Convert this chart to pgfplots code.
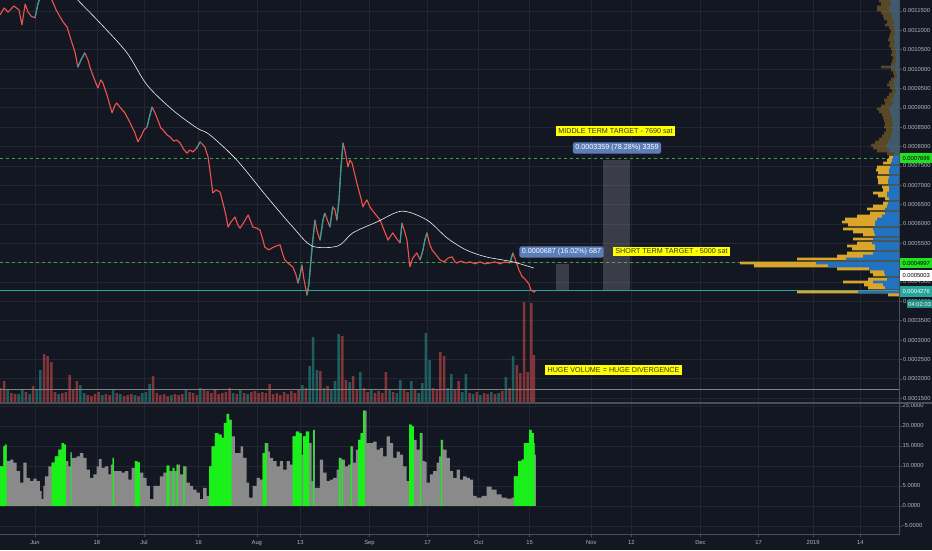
\documentclass[border=0pt]{standalone}
\usepackage{fontspec}
\setmainfont{Liberation Sans}
\usepackage{pgfplots}
\usepackage{pgfplotstable}
\pgfplotsset{compat=1.18}
\pgfplotsset{/pgf/number format/assume math mode=true}

\definecolor{bg}{HTML}{131722}
\definecolor{gridc}{HTML}{222633}
\definecolor{axisc}{HTML}{4A4E59}
\definecolor{tickc}{HTML}{B2B5BE}
\definecolor{cred}{HTML}{EF5350}
\definecolor{cteal}{HTML}{26A69A}
\definecolor{vpgold}{HTML}{D9A52B}
\definecolor{vpblue}{HTML}{2272C2}
\definecolor{histgray}{HTML}{8A8A8A}
\definecolor{histgreen}{HTML}{1AF01A}
\definecolor{lvlgreen}{HTML}{43A047}
\definecolor{lblgreen}{HTML}{22E022}
\definecolor{boxblue}{HTML}{5B7DB8}
\definecolor{ylw}{HTML}{FFFF00}
\definecolor{rectgray}{HTML}{9598A1}

% price in units of 1e-7 BTC ("sat" as the chart notes call them), x in days from 1 Jun 2018
\pgfplotstableread{
d p
-9.6 11400
-8.5 11580
-7.4 11470
-5.8 11630
-4.4 11530
-3.6 11140
-2.7 11680
-1.9 11470
-1.1 11370
0 11320
0.8 11680
1.9 11990
3.3 11910
4.7 11780
5.8 11530
6.9 11350
7.7 11220
8.8 11090
9.6 10850
10.2 10670
11.0 10440
11.8 10050
12.6 10230
13.7 10420
14.6 10230
15.1 10050
16.2 9770
17.3 9510
18.1 9720
18.7 9640
19.8 9330
21.2 8870
22.0 9070
22.5 9120
23.6 8990
24.7 8870
25.8 8680
26.7 8500
27.5 8350
28.3 8120
29.1 8250
30.0 8430
30.8 8500
31.6 8810
32.2 9020
33.0 8870
33.8 8680
34.6 8480
35.2 8430
36.3 8300
37.1 8250
38.2 8140
39.0 8170
39.9 8090
41.0 7910
41.8 7830
42.6 7910
43.4 7860
44.5 7960
45.4 8120
46.2 8040
46.7 7990
47.6 7730
48.1 7390
48.9 6800
49.8 6880
50.9 6820
51.7 6540
52.5 6230
53.1 5920
53.9 6050
55.0 6180
55.8 5970
56.4 5890
57.5 6050
58.6 6230
59.4 6050
59.9 5920
61.0 5890
61.9 5840
62.7 5580
63.2 5400
64.3 5330
65.2 5380
66.3 5430
67.4 5460
68.2 5200
68.7 5070
69.8 4970
70.9 4890
71.8 4680
72.3 4470
72.9 4680
73.4 4940
74.0 4550
74.8 4160
75.3 4420
75.9 5070
76.4 5580
77.0 6100
77.5 5840
78.4 5580
79.2 6100
79.7 6280
80.6 6050
81.1 5920
81.9 6440
82.5 6360
83.0 6100
83.6 6620
84.1 7390
84.7 8090
85.2 7910
86.1 7470
86.6 7650
87.2 7570
88.0 7260
88.5 7060
89.4 6750
90.2 6440
90.7 6540
91.3 6620
92.1 6440
92.7 6360
93.8 6230
94.9 6100
96.0 5840
97.1 5580
97.6 5660
98.4 5770
99.3 5640
100.4 5510
100.9 6020
101.7 5790
102.3 5580
103.1 4890
103.9 5120
105.0 5250
105.9 5070
106.7 5330
107.2 5580
107.8 5770
108.6 5460
109.2 5330
110.3 5200
111.4 5070
112.5 5020
113.6 5120
114.7 5150
115.5 5020
116.0 4990
117.1 5040
118.5 4990
119.6 5020
121.0 4970
122.4 5020
123.7 4970
125.1 4990
126.5 5020
127.9 4970
129.2 5020
130.6 4990
131.4 5250
132.3 5020
133.1 4810
133.9 4650
135.0 4550
135.8 4450
136.4 4290
137.2 4240
137.7 4276
}\price

\pgfplotstableread{
d p
0 11320
0.8 11680
1.9 11990
nan nan
11.8 10050
12.6 10230
13.7 10420
nan nan
30.8 8500
31.6 8810
32.2 9020
nan nan
44.5 7960
45.4 8120
nan nan
72.3 4470
72.9 4680
73.4 4940
nan nan
74.8 4160
75.3 4420
75.9 5070
76.4 5580
77.0 6100
nan nan
78.4 5580
79.2 6100
79.7 6280
nan nan
81.1 5920
81.9 6440
nan nan
83.0 6100
83.6 6620
84.1 7390
84.7 8090
nan nan
100.4 5510
100.9 6020
nan nan
105.9 5070
106.7 5330
107.2 5580
107.8 5770
nan nan
130.6 4990
131.4 5250
}\priceup

\pgfplotstableread{
d p
6.9 12280
11.8 11780
17.9 11190
25.3 10420
30.8 9590
37.9 8940
44.5 8480
48.1 8300
55.5 7650
63.8 6700
70.9 5920
76.2 5430
83.3 5430
87.4 5770
94.0 6050
100.9 6330
107.8 6100
113.3 5640
118.5 5330
124.0 5150
131.4 5020
137.2 4860
}\ma

\pgfplotstableread{
d v
-9.5 14
-8.5 21
-6.5 9
-5.5 8
-2.5 10
-0.5 16
2.5 48
3.5 46
4.5 40
5.5 10
7.5 9
8.5 10
9.5 27
10.5 12
11.5 21
14.5 7
15.5 6
16.5 8
17.5 10
19.5 8
20.5 7
22.5 9
24.5 6
25.5 7
26.5 8
28.5 6
32.5 26
33.5 9
34.5 7
35.5 8
36.5 6
38.5 8
39.5 7
40.5 8
42.5 10
43.5 9
44.5 7
46.5 12
47.5 11
48.5 9
49.5 12
50.5 8
51.5 9
52.5 10
53.5 14
55.5 8
57.5 9
59.5 10
60.5 11
61.5 9
62.5 10
63.5 9
64.5 18
65.5 8
66.5 9
67.5 7
68.5 10
69.5 8
70.5 11
71.5 9
72.5 12
74.5 14
78.5 31
80.5 16
84.5 66
85.5 22
87.5 26
88.5 12
90.5 14
91.5 10
93.5 9
94.5 11
95.5 9
96.5 30
98.5 10
101.5 12
102.5 10
104.5 12
109.5 14
110.5 12
111.5 50
112.5 46
115.5 12
116.5 21
119.5 9
121.5 10
123.5 9
124.5 8
126.5 8
128.5 11
130.5 14
132.5 37
133.5 29
134.5 100
135.5 30
136.5 99
137.2 47
}\volred

\pgfplotstableread{
d v
-7.5 12
-4.5 8
-3.5 13
-1.5 8
0.5 12
1.5 32
6.5 8
12.5 17
13.5 9
18.5 7
21.5 12
23.5 8
27.5 7
29.5 9
30.5 10
31.5 18
37.5 7
41.5 12
45.5 14
54.5 9
56.5 13
58.5 8
73.5 17
75.5 36
76.5 65
77.5 32
79.5 14
81.5 13
82.5 21
83.5 68
86.5 20
89.5 30
92.5 12
97.5 12
99.5 9
100.5 22
103.5 21
105.5 9
106.5 19
107.5 69
108.5 42
113.5 14
114.5 28
117.5 10
118.5 28
120.5 8
122.5 7
125.5 10
127.5 9
129.5 25
131.5 46
}\volteal

\pgfplotstableread{
p l b
11758 20 9
11681 18 8
11603 22 10
11526 22 10
11448 18 8
11371 16 7
11293 15 7
11216 12 5
11138 14 6
11061 10 5
10983 8 4
10906 9 4
10828 10 5
10751 11 5
10673 9 4
10596 10 5
10518 8 4
10441 7 3
10363 8 4
10286 6 3
10208 7 3
10131 8 4
10053 18 8
9976 8 4
9898 6 3
9821 5 2
9743 8 4
9666 10 5
9588 12 5
9511 9 4
9434 7 3
9356 10 5
9279 12 5
9201 15 7
9124 14 6
9046 18 8
8969 22 10
8891 20 9
8814 17 8
8736 16 7
8659 15 7
8581 14 6
8504 15 7
8426 13 6
8349 15 7
8271 17 8
8194 20 9
8116 24 11
8039 28 13
7961 26 12
7884 22 10
7806 12 5
}\vpdim

\pgfplotstableread{
p l b
7729 10 6
7651 12 7
7574 16 8
7470 22 9
7393 23 10
7315 21 10
7212 22 10
7135 21 11
7057 21 11
6954 17 10
6876 16 10
6799 26 12
6721 21 12
6644 14 10
6541 16 11
6463 26 12
6386 32 14
6282 29 14
6205 42 17
6127 54 22
6050 57 24
5972 51 24
5869 56 26
5791 46 25
5714 36 24
5611 46 26
5507 42 27
5430 52 24
5352 47 24
5249 52 26
5172 62 36
5094 102 53
4991 159 83
4913 145 71
4836 62 30
4758 29 15
4681 26 14
4577 31 12
4500 56 26
4422 35 16
4345 31 14
4242 102 41
4164 11 0
}\vpbright

\pgfplotstableread{
d v
-9.62 9.9
-8.72 14.9
-8.25 15.3
-7.78 11.2
-6.87 11.6
-5.97 10.8
-5.03 8.7
-4.12 5.8
-3.22 10.8
-2.28 7.0
-1.37 6.2
-0.47 6.8
0.47 6.2
1.37 3.7
1.84 1.7
2.28 5.0
2.75 7.4
3.66 9.9
4.59 10.8
5.50 12.4
6.41 14.1
7.34 15.7
7.97 15.3
8.52 11.2
9.16 9.9
9.82 13.4
10.09 12.0
11.47 12.4
12.37 13.2
13.28 12.0
14.22 9.1
15.12 7.0
16.03 7.9
16.97 9.9
17.60 11.7
18.34 9.5
19.25 9.9
20.15 7.9
20.90 10.3
21.36 12.0
21.72 8.7
22.90 8.7
23.84 8.3
24.75 8.7
25.65 6.6
26.59 9.5
27.50 11.2
28.13 10.9
28.87 8.3
29.78 7.0
30.71 5.0
31.62 1.7
32.53 5.0
33.46 5.0
34.37 7.4
35.28 8.3
36.21 10.1
36.93 8.7
37.86 9.5
38.30 8.7
38.96 10.3
39.87 7.9
40.78 9.9
41.71 5.8
42.62 5.0
43.52 4.1
44.46 3.3
45.37 1.7
46.27 4.5
47.21 2.5
47.92 9.9
48.58 14.9
49.49 18.2
50.40 17.8
51.33 17.0
51.97 20.7
52.71 23.0
53.42 21.5
54.08 17.4
54.99 13.2
55.90 13.2
56.56 14.9
57.27 12.0
58.21 5.8
58.92 2.1
59.86 5.0
60.96 7.0
61.86 6.6
62.61 13.2
63.24 15.7
64.15 13.6
64.61 12.0
65.52 11.2
66.46 9.9
67.36 11.2
68.27 9.1
69.21 11.2
70.11 10.3
70.86 17.4
71.76 18.6
72.67 18.2
73.33 12.8
73.77 17.4
74.51 18.6
75.42 15.7
76.08 6.2
76.52 19.0
76.99 4.5
78.36 11.6
79.27 8.3
80.20 6.2
81.11 6.6
82.02 7.0
82.95 9.1
83.59 12.0
84.33 11.6
85.23 9.9
86.14 10.3
86.80 14.9
87.52 10.8
88.26 14.1
88.89 16.5
89.55 18.2
90.27 23.8
91.20 15.7
92.11 15.7
93.02 16.1
93.95 14.1
94.86 14.5
95.77 12.4
96.70 17.4
97.61 15.7
98.52 12.0
99.45 13.6
100.36 12.8
101.26 9.9
102.20 6.2
102.91 20.3
103.57 19.9
104.21 16.5
104.95 14.1
105.86 18.2
106.60 11.2
107.23 11.0
107.70 5.8
108.61 7.9
109.51 8.7
110.45 10.8
111.16 12.4
111.63 16.5
112.26 14.1
113.20 12.0
114.10 8.7
115.01 7.0
115.95 9.1
116.85 6.6
117.76 7.4
118.70 7.0
119.60 6.6
120.51 2.5
121.45 2.1
122.82 2.5
124.20 4.8
125.57 4.1
126.95 2.9
128.32 2.1
129.69 1.8
131.07 2.1
131.70 7.4
132.88 11.2
133.82 11.6
134.45 15.7
135.19 15.7
135.91 19.0
136.57 18.2
137.20 15.7
137.39 12.8
137.75 0
}\hist

\pgfplotstableread{
d v
-9.62 9.9
-8.72 14.9
-8.25 15.3
-7.78 0
4.59 10.8
5.50 12.4
6.41 14.1
7.34 15.7
7.97 15.3
8.52 0
9.82 13.4
10.09 0
21.36 12.0
21.72 0
27.50 11.2
28.13 10.9
28.87 0
36.21 10.1
36.93 0
37.86 9.5
38.30 0
38.96 10.3
39.32 0
40.78 9.9
41.16 0
47.92 9.9
48.58 14.9
49.49 18.2
50.40 17.8
51.33 17.0
51.97 20.7
52.71 23.0
53.42 21.5
54.08 0
62.61 13.2
63.24 15.7
63.70 0
70.86 17.4
71.76 18.6
72.67 18.2
73.33 0
73.77 17.4
74.51 18.6
75.42 0
76.52 19.0
76.80 0
83.59 12.0
83.95 0
84.33 11.6
84.69 0
86.80 14.9
87.16 0
88.89 16.5
89.55 18.2
90.27 23.8
90.73 0
102.91 20.3
103.57 19.9
104.21 0
105.86 18.2
106.22 0
111.63 16.5
111.99 0
131.70 7.4
132.88 11.2
133.82 11.6
134.45 15.7
135.19 15.7
135.91 19.0
136.57 18.2
137.20 15.7
137.39 0
}\histg

\pgfplotsset{
  tvbase/.style={
    scale only axis, width=899pt,
    xmin=-9.62, xmax=237.6,
    axis line style={draw=none},
    tick label style={font=\fontsize{5.8}{6}\selectfont, color=tickc},
    every tick/.style={axisc, line width=0.5pt},
    grid style={gridc, line width=0.6pt},
    xtick={0,17,30,45,61,73,92,108,122,136,153,164,183,199,214,227},
  },
  overlay/.style={scale only axis, width=899pt, at={(0pt,0pt)}, anchor=north west, height=402pt, hide axis},
}

\begin{document}
\begin{tikzpicture}[x=1pt,y=1pt]
\useasboundingbox (0pt,0pt) rectangle (932pt,-550pt);
\fill[bg] (0pt,0pt) rectangle (932pt,-550pt);

% price pane
\begin{axis}[tvbase, at={(0pt,0pt)}, anchor=north west, height=402pt,
  ymin=1400, ymax=11784,
  xmajorgrids, ymajorgrids,
  xticklabels={}, major x tick style={draw=none},
  ytick={1500,2000,...,11500},
  yticklabels={0.0001500,0.0002000,0.0002500,0.0003000,0.0003500,0.0004000,0.0004500,0.0005000,0.0005500,0.0006000,0.0006500,0.0007000,0.0007500,0.0008000,0.0008500,0.0009000,0.0009500,0.0010000,0.0010500,0.0011000,0.0011500},
  ytick pos=right, yticklabel pos=right, tick align=outside, major tick length=3pt,
  yticklabel style={inner sep=1pt},
]
\addplot[lvlgreen, line width=0.6pt, dash pattern=on 3pt off 3pt] coordinates {(-9.62,7699) (237.6,7699)};
\addplot[lvlgreen, line width=0.6pt, dash pattern=on 3pt off 3pt] coordinates {(-9.62,4997) (237.6,4997)};
\addplot[cteal, line width=0.6pt] coordinates {(-9.62,4276) (237.6,4276)};
\fill[rectgray, fill opacity=0.3] (axis cs:143.25,4290) rectangle (axis cs:146.8,4963);
\fill[rectgray, fill opacity=0.3] (axis cs:156.2,4290) rectangle (axis cs:163.6,7650);
\addplot[cred, line width=1.1pt, line join=round] table[x=d,y=p] {\price};
\addplot[cteal, line width=1.1pt, line join=round, unbounded coords=jump] table[x=d,y=p] {\priceup};
\addplot[white!88!gray, line width=0.6pt, smooth] table[x=d,y=p] {\ma};
\end{axis}

% volume overlay
\begin{axis}[overlay, xmin=-9.62, xmax=237.6, ymin=0, ymax=402]
\addplot[ybar, bar width=0.7, bar shift=0pt, fill=cred, fill opacity=0.5, draw=none] table[x=d,y=v] {\volred};
\addplot[ybar, bar width=0.7, bar shift=0pt, fill=cteal, fill opacity=0.5, draw=none] table[x=d,y=v] {\volteal};
\addplot[gray, line width=0.6pt] coordinates {(-9.62,13) (237.6,13)};
\end{axis}

% visible range volume profile
\begin{axis}[overlay, xmin=0, xmax=899, x dir=reverse, ymin=1400, ymax=11784]
\addplot[xbar, bar width=67, bar shift=0pt, fill=vpgold, fill opacity=0.35, draw=none] table[x=l,y=p] {\vpdim};
\addplot[xbar, bar width=67, bar shift=0pt, fill=vpblue, fill opacity=0.45, draw=none] table[x=b,y=p] {\vpdim};
\addplot[xbar, bar width=67, bar shift=0pt, fill=vpgold, draw=none] table[x=l,y=p] {\vpbright};
\addplot[xbar, bar width=67, bar shift=0pt, fill=vpblue, draw=none] table[x=b,y=p] {\vpbright};
\end{axis}

% indicator pane
\begin{axis}[tvbase, at={(0pt,-404pt)}, anchor=north west, height=130pt,
  ymin=-7.02, ymax=25.48,
  xmajorgrids, ymajorgrids,
  xticklabels={Jun,18,Jul,16,Aug,13,Sep,17,Oct,15,Nov,12,Dec,17,2019,14},
  xtick pos=bottom, tick align=outside, major tick length=2.5pt,
  ytick={-5,0,...,25},
  ytick pos=right, yticklabel pos=right,
  yticklabel style={inner sep=1pt, /pgf/number format/.cd, fixed, fixed zerofill, precision=4},
]
\addplot[ybar interval, fill=histgray, draw=none] table[x=d,y=v] {\hist};
\addplot[ybar interval, fill=histgreen, draw=none] table[x=d,y=v] {\histg};
\end{axis}

% frame lines
\draw[axisc, line width=0.8pt] (899.5pt,0pt) -- (899.5pt,-534pt);
\draw[axisc, line width=1.4pt] (0pt,-403pt) -- (932pt,-403pt);
\draw[axisc, line width=0.8pt] (0pt,-534pt) -- (899.5pt,-534pt);

% price scale labels
\tikzset{scl/.style={font=\fontsize{5.8}{6}\selectfont, inner xsep=1pt, inner ysep=0pt, minimum height=10.5pt, minimum width=32pt, anchor=west}}
\node[scl, fill=lblgreen, text=black] at (900pt,-158pt) {0.0007699};
\node[scl, fill=lblgreen, text=black] at (900pt,-263pt) {0.0004997};
\node[scl, fill=white, text=black] at (900pt,-275.5pt) {0.0005003};
\node[scl, fill=cteal, text=white] at (900pt,-291.5pt) {0.0004276};
\node[scl, fill=cteal!85!black, text=white, minimum width=25pt, minimum height=8.5pt] at (907pt,-304pt) {04:02:03};

% annotations
\tikzset{ann/.style={font=\fontsize{7.2}{8}\selectfont, inner xsep=2.5pt, inner ysep=2.2pt}}
\node[ann, fill=ylw, text=black!80] at (615.5pt,-131pt) {MIDDLE TERM TARGET - 7690 sat};
\node[ann, fill=boxblue, text=white, rounded corners=1.5pt] at (617pt,-148pt) {0.0003359 (78.28\%) 3359};
\node[ann, fill=boxblue, text=white, rounded corners=1.5pt] at (561.5pt,-252pt) {0.0000687 (16.02\%) 687};
\node[ann, fill=ylw, text=black!80] at (671.5pt,-251.5pt) {SHORT TERM TARGET - 5000 sat};
\node[ann, fill=ylw, text=black!80] at (613.5pt,-370pt) {HUGE VOLUME = HUGE DIVERGENCE};
\end{tikzpicture}
\end{document}
